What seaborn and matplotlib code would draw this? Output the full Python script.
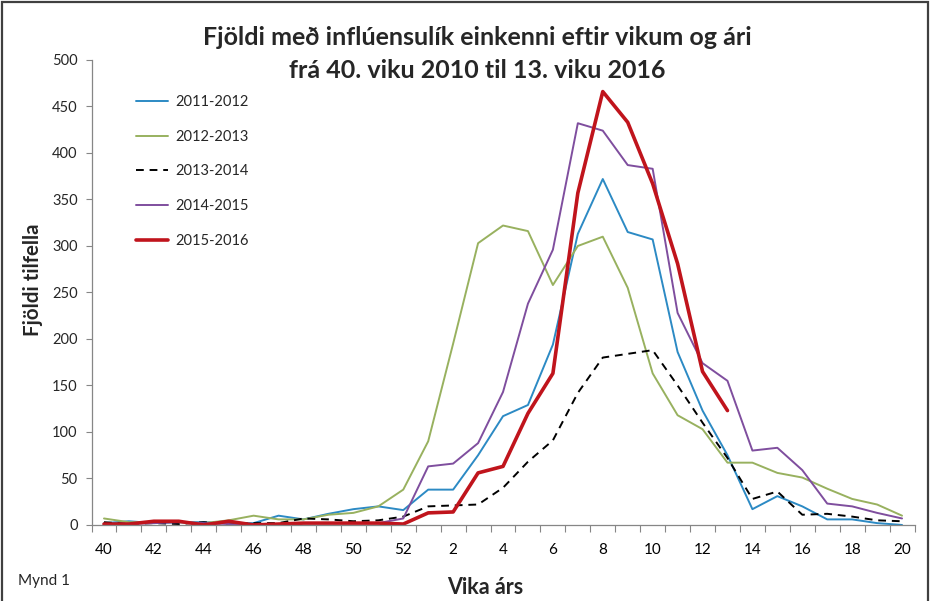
import matplotlib
matplotlib.use("Agg")
import matplotlib.pyplot as plt
from matplotlib.patches import Rectangle
import seaborn as sns
import numpy as np

weeks = list(range(40, 53)) + list(range(1, 21))
tick_labels = [str(w) if w % 2 == 0 else "" for w in weeks]

s_2011_2012 = [2, 4, 2, 3, 3, 2, 2, 10, 6, 12, 17, 20, 16, 38, 38, 75, 117, 129, 194, 313, 372, 315, 307, 186, 123, 75, 17, 31, 20, 6, 6, 2, 0]
s_2012_2013 = [7, 3, 3, 3, 2, 5, 10, 6, 6, 11, 13, 20, 38, 90, 195, 303, 322, 316, 258, 300, 310, 255, 163, 118, 103, 67, 67, 56, 51, 39, 28, 22, 10]
s_2013_2014 = [3, 1, 2, 1, 3, 1, 2, 2, 7, 6, 4, 5, 9, 20, 21, 22, 40, 68, 91, 142, 180, 184, 188, 150, 110, 72, 28, 36, 11, 12, 9, 5, 4]
s_2014_2015 = [1, 1, 2, 3, 2, 1, 0, 1, 2, 2, 2, 2, 7, 63, 66, 88, 143, 238, 296, 432, 424, 387, 383, 228, 174, 155, 80, 83, 59, 23, 20, 13, 7]
s_2015_2016 = [1, 1, 4, 4, 0, 4, 0, 1, 2, 2, 2, 2, 1, 13, 14, 56, 63, 120, 163, 357, 466, 433, 367, 281, 165, 123]

series = [
    ("2011-2012", s_2011_2012, "#2C8AC4", 1.4, (None, None)),
    ("2012-2013", s_2012_2013, "#98B15F", 1.4, (None, None)),
    ("2013-2014", s_2013_2014, "#000000", 1.4, (4, 3)),
    ("2014-2015", s_2014_2015, "#7F4E9E", 1.4, (None, None)),
    ("2015-2016", s_2015_2016, "#C0141C", 2.6, (None, None)),
]

sns.set_theme(style="white")
plt.rcParams["font.family"] = ["Lato", "DejaVu Sans"]

fig = plt.figure(figsize=(9.31, 6.01), dpi=100)
ax = fig.add_axes([0.0983, 0.1265, 0.884, 0.7737])

for name, vals, color, lw, dash in series:
    x = np.arange(len(vals))
    sns.lineplot(x=x, y=vals, ax=ax, color=color, linewidth=lw, label=name)
    if dash[0] is not None:
        ax.lines[-1].set_dashes(dash)

ax.set_xlim(-0.5, len(weeks) - 0.5)
ax.set_ylim(0, 500)
ax.set_yticks(range(0, 501, 50))
ax.set_xticks(range(len(weeks)))
ax.set_xticklabels(tick_labels)
ax.set_xticks(np.arange(-0.5, len(weeks), 1), minor=True)
ax.tick_params(axis="x", which="major", length=0, labelsize=11, pad=13, colors="#000000")
ax.tick_params(axis="x", which="minor", length=5, width=0.8, color="#868686", bottom=True)
ax.tick_params(axis="y", length=4, width=0.8, color="#868686", labelsize=10.5, left=True, pad=6)

for sp in ["top", "right"]:
    ax.spines[sp].set_visible(False)
for sp in ["left", "bottom"]:
    ax.spines[sp].set_color("#868686")
    ax.spines[sp].set_linewidth(0.9)

ax.set_xlabel("")
ax.set_ylabel("")

ax.legend(loc="upper left", bbox_to_anchor=(0.038, 0.953), frameon=False,
          fontsize=10.5, handlelength=2.2, labelspacing=1.42, handletextpad=0.5)

fig.text(0.513, 0.938, "Fjöldi með inflúensulík einkenni eftir vikum og ári",
         ha="center", va="center", fontsize=18, fontweight="bold")
fig.text(0.513, 0.883, "frá 40. viku 2010 til 13. viku 2016",
         ha="center", va="center", fontsize=18, fontweight="bold")
fig.text(0.035, 0.534, "Fjöldi tilfella", rotation=90, ha="center", va="center",
         fontsize=14.8, fontweight="bold")
fig.text(0.521, 0.022, "Vika árs", ha="center", va="center", fontsize=15.5, fontweight="bold")
fig.text(0.019, 0.033, "Mynd 1", ha="left", va="center", fontsize=11)

fig.patches.append(Rectangle((0.002, -0.01), 0.995, 1.006, transform=fig.transFigure,
                             fill=False, edgecolor="#404040", linewidth=1.6))

fig.savefig("out.png", dpi=100)
